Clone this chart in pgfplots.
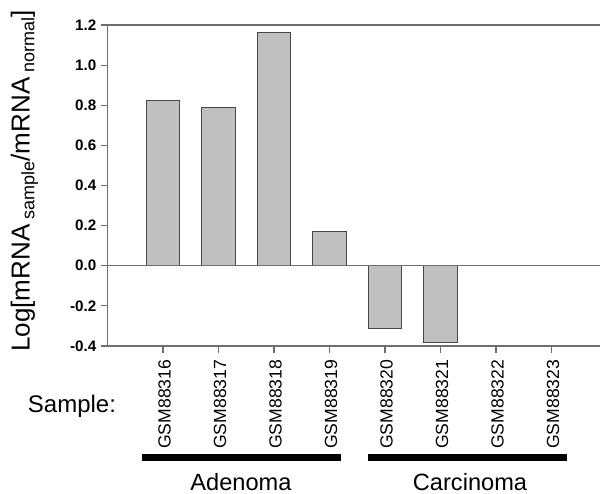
\documentclass[border=0pt]{standalone}
\usepackage{fontspec}
\setmainfont{Liberation Sans}
\usepackage{pgfplots}
\pgfplotsset{compat=1.18}

\definecolor{barfill}{RGB}{192,192,192}
\definecolor{barline}{RGB}{70,70,70}
\definecolor{axgray}{RGB}{110,110,110}

\begin{document}
\begin{tikzpicture}
% fixed canvas, 1 px of the reference = 0.5pt
\path[use as bounding box] (-53.75pt,-73.5pt) rectangle (246.25pt,173pt);

\begin{axis}[
    scale only axis,
    width=246.25pt, height=160.5pt,
    xmin=0, xmax=8.874,
    ymin=-0.4, ymax=1.2,
    axis x line=box, axis y line*=left,
    axis line style={axgray, line width=0.6pt},
    tick style={axgray, line width=0.6pt},
    tick align=outside,
    major tick length=3.3pt,
    xtick pos=bottom, ytick pos=left,
    xtick={1,2,3,4,5,6,7,8},
    xticklabels={GSM88316,GSM88317,GSM88318,GSM88319,GSM88320,GSM88321,GSM88322,GSM88323},
    xticklabel style={rotate=90, anchor=east, font=\fontsize{8.8}{9}\selectfont, yshift=-0.8pt},
    ytick={-0.4,-0.2,0,0.2,0.4,0.6,0.8,1.0,1.2},
    yticklabel style={font=\bfseries\fontsize{7.6}{8}\selectfont, xshift=1.2pt},
    /pgf/number format/assume math mode=true,
    /pgf/number format/.cd, fixed, fixed zerofill, precision=1, /pgfplots/.cd,
    ybar, bar width=0.6,
]
\addplot[fill=barfill, draw=barline, line width=0.5pt] coordinates {
    (1, 0.826) (2, 0.790) (3, 1.165) (4, 0.171) (5, -0.311) (6, -0.382)
};
% zero line
\draw[axgray, line width=0.6pt] (axis cs:0,0) -- (axis cs:8.874,0);
\end{axis}

% y label
\node[rotate=90, font=\fontsize{13}{15}\selectfont] at (-41.5pt,82.5pt)
    {Log[mRNA\raisebox{-0.35ex}{\fontsize{9}{10}\selectfont\ sample}/mRNA\raisebox{-0.35ex}{\fontsize{9}{10}\selectfont\ normal}]};

\node[font=\fontsize{12}{14}\selectfont] at (-17.75pt,-30.35pt) {Sample:};

% group bars
\draw[black, line width=3.2pt] (17.1pt,-55.65pt) -- (116.6pt,-55.65pt);
\draw[black, line width=3.2pt] (130.4pt,-55.65pt) -- (229.9pt,-55.65pt);
\node[anchor=base, font=\fontsize{11.8}{14}\selectfont] at (66.75pt,-72pt) {Adenoma};
\node[anchor=base, font=\fontsize{11.8}{14}\selectfont] at (181.25pt,-72pt) {Carcinoma};
\end{tikzpicture}
\end{document}
